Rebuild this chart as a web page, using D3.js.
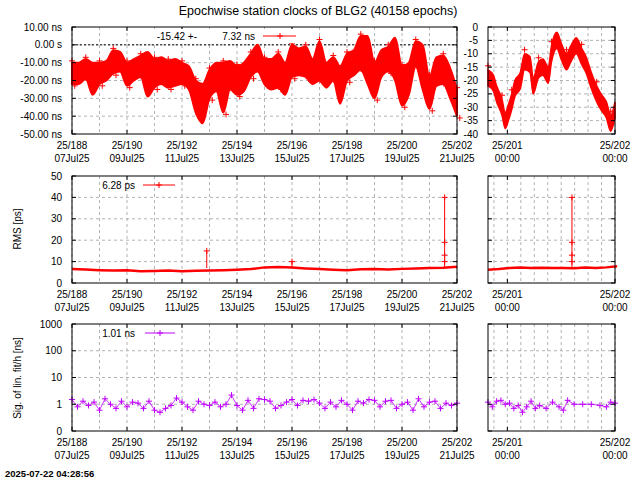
<!DOCTYPE html>
<html><head><meta charset="utf-8">
<script src="https://cdn.jsdelivr.net/npm/d3@7"></script>
<style>body{margin:0;background:#fff}svg{font-family:"Liberation Sans",Arial,sans-serif}</style>
</head><body><svg id="c" width="640" height="480"></svg>
<script>
// ---------- data ----------
const clkDays = d3.range(57).map(i=>188+i*0.25);
const clkLo = [-22,-22,-19,-28,-22,-20,-16,-15,-23,-20,-18,-29,-24,-22,-24,-23,-22,-25,-38,-44,-30,-26,-38,-25,-28,-26,-18,-15,-22,-25,-24,-28,-18,-17,-18,-22,-20,-24,-20,-33,-20,-17,-14,-22,-30,-18,-15,-20,-34,-28,-12,-25,-36,-23,-22,-30,-40];
const clkHi = [-10,-10,-8,-10,-10,-9,-3,-4,-10,-8,-6,-4,-8,-7,-9,-8,-10,-12,-20,-22,-14,-10,-10,-9,-12,-10,-5,0,-8,-8,-5,-10,0,-2,-1,-8,2,-10,-7,-12,-5,-3,5,5,-10,-3,-1,4,-12,-10,2,0,-18,-7,-6,-13,-25];
const clkRDays = [200.82,200.87,200.90,200.95,200.98,201.01,201.04,201.07,201.12,201.16,201.21,201.24,201.29,201.33,201.38,201.41,201.46,201.50,201.55,201.59,201.64,201.69,201.73,201.78,201.83,201.87,201.92,201.96,202.0];
const clkR = [-19,-21,-25,-30,-35,-32,-28,-23,-20,-13,-14,-22,-16,-15,-18,-10,-5,-9,-13,-10,-7,-11,-14,-20,-25,-28,-31,-36,-31];
const rmsDays = d3.range(29).map(i=>188+i*0.5);
const rmsVals = [6.5,6.3,6.0,5.8,6.0,5.5,5.6,5.8,5.5,5.7,5.8,6.0,6.2,6.5,7.3,7.5,7.2,6.8,6.5,6.2,6.0,6.4,6.5,6.3,6.6,6.8,7.0,7.1,7.6];
const spikeDays = [192.9,196.0,201.55];
const spikeVals = [15,10,40];
const rmsRDays = d3.range(13).map(i=>200.82+i*0.1);
const rmsRVals = [6.2,6.5,7.0,7.2,7.0,7.1,7.0,7.0,6.9,7.2,7.0,7.3,7.8];
const rmsRSpikeDay = 201.6, rmsRSpikeVal = 40;
const sigDays = d3.range(71).map(i=>188+i*0.2);
const sigVals = [1.5,0.8,1.3,0.9,1.2,0.6,1.6,1.0,0.7,1.3,0.8,1.2,1.1,0.7,1.3,0.6,0.5,0.7,0.9,1.7,1.2,0.8,0.6,1.3,1.0,0.9,1.2,0.8,1.0,2.2,0.9,0.6,1.4,0.7,1.6,1.5,1.3,0.7,0.9,1.2,1.5,0.9,1.4,1.3,1.5,1.1,0.7,1.2,0.8,1.4,1.0,0.6,1.3,1.1,1.5,1.4,0.8,1.3,1.4,0.7,1.0,1.2,0.6,1.6,0.8,1.2,1.3,0.7,1.1,0.9,1.1];
const sigRDays = [200.82,200.86,200.9,200.94,200.98,201.02,201.06,201.1,201.14,201.18,201.22,201.26,201.3,201.36,201.42,201.48,201.52,201.56,201.62,201.7,201.78,201.86,201.92,201.96,202.0];
const sigRVals = [1.2,0.8,1.3,1.4,1.0,1.1,0.7,0.9,0.5,0.8,1.3,0.7,0.9,0.7,1.2,0.8,0.6,1.4,1.0,1.0,1.0,0.9,0.8,1.2,1.1];
const xTicksL = [188,190,192,194,196,198,200,202];
const xDatesL = ["07Jul25","09Jul25","11Jul25","13Jul25","15Jul25","17Jul25","19Jul25","21Jul25"];
const xTicksR = [201,202];
const yTopL = [10,0,-10,-20,-30,-40,-50];
const yTopLLab = ["10.00 ns","0.00  s","-10.00 ns","-20.00 ns","-30.00 ns","-40.00 ns","-50.00 ns"];
const yTopR = [0,-5,-10,-15,-20,-25,-30,-35,-40];
const yMid = [0,10,20,30,40,50];
const yBot = [0,1,10,100,1000];

// ---------- drawing ----------
const svg = d3.select("#c");
const RED="#ff0000", PUR="#c000ff";
const xL = d3.scaleLinear([188,202],[72,457]);
const xR = d3.scaleLinear([200.82,202],[488,615]);
const yT = d3.scaleLinear([-50,10],[134,27]);
const yTR = d3.scaleLinear([-40,0],[134,27]);
const yM = d3.scaleLinear([0,50],[283,176]);
const lev = v => v<=0?0:Math.max(0,Math.log10(v)+1);
const yBs = d3.scaleLinear([0,4],[431,324]);
const yB = v => yBs(lev(v));
const fs = "10px";

function panel(x,y,xgrid,ygrid,ypix){
  const g = svg.append("g");
  const [x0,x1]=x.range(), [y1,y0]=ypix;
  xgrid.forEach(d=>g.append("line").attr("x1",x(d)).attr("x2",x(d)).attr("y1",y0).attr("y2",y1)
    .attr("stroke","#a0a0a0").attr("stroke-dasharray","3,3").attr("stroke-width",0.8));
  ygrid.forEach(v=>g.append("line").attr("x1",x0).attr("x2",x1).attr("y1",y(v)).attr("y2",y(v))
    .attr("stroke","#a0a0a0").attr("stroke-dasharray","3,3").attr("stroke-width",0.8));
  return g;
}
function frame(x,ypix,xticks,yticks,y){
  const [x0,x1]=x.range(), [y1,y0]=ypix;
  const g=svg.append("g");
  g.append("rect").attr("x",x0).attr("y",y0).attr("width",x1-x0).attr("height",y1-y0)
   .attr("fill","none").attr("stroke","#000");
  xticks.forEach(d=>{g.append("line").attr("x1",x(d)).attr("x2",x(d)).attr("y1",y1).attr("y2",y1-4).attr("stroke","#000");
    g.append("line").attr("x1",x(d)).attr("x2",x(d)).attr("y1",y0).attr("y2",y0+4).attr("stroke","#000");});
  yticks.forEach(v=>{g.append("line").attr("x1",x0).attr("x2",x0+4).attr("y1",y(v)).attr("y2",y(v)).attr("stroke","#000");
    g.append("line").attr("x1",x1).attr("x2",x1-4).attr("y1",y(v)).attr("y2",y(v)).attr("stroke","#000");});
}
function plus(g,px,py,col,s=3){
  g.append("path").attr("d",`M${px-s},${py}h${2*s}M${px},${py-s}v${2*s}`).attr("stroke",col).attr("stroke-width",1);
}
function xlabels(x,ticks,l2,yb){
  ticks.forEach((d,i)=>{
    svg.append("text").attr("x",x(d)).attr("y",yb).attr("text-anchor","middle").attr("font-size",fs).text("25/"+d);
    svg.append("text").attr("x",x(d)).attr("y",yb+13).attr("text-anchor","middle").attr("font-size",fs).text(l2[i]);
  });
}
function ylabels(x,y,vals,labs){
  vals.forEach((v,i)=>svg.append("text").attr("x",x).attr("y",y(v)+3.5).attr("text-anchor","end").attr("font-size",fs).text(labs[i]));
}
const dayGridL = d3.range(188,202.01,1);
const gridR = d3.range(201-0.125,202.01,0.125);

svg.append("text").attr("x",318).attr("y",15).attr("text-anchor","middle").attr("font-size","12.5px").text("Epochwise station clocks of BLG2 (40158 epochs)");

// Top-left
let g = panel(xL,yT,dayGridL,yTopL.slice(1,-1),[134,27]);
g.append("line").attr("x1",72).attr("x2",457).attr("y1",yT(0)).attr("y2",yT(0)).attr("stroke","#000").attr("stroke-dasharray","2,2");
const area = d3.area().x((d,i)=>xL(clkDays[i])).y0((d,i)=>yT(clkLo[i])).y1((d,i)=>yT(clkHi[i])).curve(d3.curveMonotoneX);
g.append("path").datum(clkLo).attr("d",area).attr("fill",RED).attr("stroke",RED).attr("stroke-width",2);
clkDays.forEach((d,i)=>{if(i%2==0){plus(g,xL(d),yT(clkHi[i]+1),RED);plus(g,xL(d+0.1),yT(clkLo[i]-1),RED);}});
frame(xL,[134,27],xTicksL,yTopL,yT);
ylabels(62,yT,yTopL,yTopLLab);
xlabels(xL,xTicksL,xDatesL,149);
svg.append("rect").attr("x",150).attr("y",29).attr("width",150).attr("height",14).attr("fill","#fff");
svg.append("text").attr("x",197).attr("y",40).attr("text-anchor","end").attr("font-size",fs).text("-15.42 +-");
svg.append("text").attr("x",255).attr("y",40).attr("text-anchor","end").attr("font-size",fs).text("7.32 ns");
svg.append("line").attr("x1",263).attr("x2",296).attr("y1",36).attr("y2",36).attr("stroke",RED);
plus(svg,280,36,RED);

// Top-right
g = panel(xR,yTR,gridR,yTopR.slice(1,-1),[134,27]);
const areaR = d3.area().x((d,i)=>xR(clkRDays[i])).y0(d=>yTR(d-3)).y1(d=>yTR(d+3)).curve(d3.curveMonotoneX);
g.append("path").datum(clkR).attr("d",areaR).attr("fill",RED).attr("stroke",RED).attr("stroke-width",1.5);
clkRDays.forEach((d,i)=>{ if(i%3==0) plus(g,xR(d),yTR(clkR[i]+4.5),RED);});
frame(xR,[134,27],xTicksR,yTopR,yTR);
ylabels(478,yTR,yTopR,yTopR.map(String));
xlabels(xR,xTicksR,["00:00","00:00"],149);

// Middle-left
g = panel(xL,yM,dayGridL,yMid.slice(1,-1),[283,176]);
const lnM = d3.line().x((d,i)=>xL(rmsDays[i])).y(d=>yM(d));
g.append("path").datum(rmsVals).attr("d",lnM).attr("fill","none").attr("stroke",RED).attr("stroke-width",2.5);
spikeDays.forEach((d,i)=>{g.append("line").attr("x1",xL(d)).attr("x2",xL(d)).attr("y1",yM(7)).attr("y2",yM(spikeVals[i])).attr("stroke",RED);
  plus(g,xL(d),yM(spikeVals[i]),RED);});
[19,13,10].forEach(v=>plus(g,xL(201.55),yM(v),RED));
frame(xL,[283,176],xTicksL,yMid,yM);
ylabels(62,yM,yMid,yMid.map(String));
xlabels(xL,xTicksL,xDatesL,298);
svg.append("text").attr("x",135).attr("y",189).attr("text-anchor","end").attr("font-size",fs).text("6.28 ps");
svg.append("line").attr("x1",143).attr("x2",175).attr("y1",185).attr("y2",185).attr("stroke",RED);
plus(svg,159,185,RED);
svg.append("text").attr("transform","translate(21,229) rotate(-90)").attr("text-anchor","middle").attr("font-size",fs).text("RMS [ps]");

// Middle-right
g = panel(xR,yM,gridR,yMid.slice(1,-1),[283,176]);
const lnMR = d3.line().x((d,i)=>xR(rmsRDays[i])).y(d=>yM(d));
g.append("path").datum(rmsRVals).attr("d",lnMR).attr("fill","none").attr("stroke",RED).attr("stroke-width",2.5);
g.append("line").attr("x1",xR(rmsRSpikeDay)).attr("x2",xR(rmsRSpikeDay)).attr("y1",yM(7)).attr("y2",yM(rmsRSpikeVal)).attr("stroke",RED);
[40,19,13,10].forEach(v=>plus(g,xR(rmsRSpikeDay),yM(v),RED));
frame(xR,[283,176],xTicksR,yMid,yM);
xlabels(xR,xTicksR,["00:00","00:00"],298);

// Bottom-left
g = panel(xL,yB,dayGridL,[1,10,100],[431,324]);
const lnB = d3.line().x((d,i)=>xL(sigDays[i])).y(d=>yB(d));
g.append("path").datum(sigVals).attr("d",lnB).attr("fill","none").attr("stroke",PUR).attr("stroke-width",0.8);
sigDays.forEach((d,i)=>plus(g,xL(d),yB(sigVals[i]),PUR));
frame(xL,[431,324],xTicksL,yBot,yB);
ylabels(62,yB,yBot,yBot.map(String));
xlabels(xL,xTicksL,xDatesL,446);
svg.append("text").attr("x",135).attr("y",337).attr("text-anchor","end").attr("font-size",fs).text("1.01 ns");
svg.append("line").attr("x1",145).attr("x2",175).attr("y1",333).attr("y2",333).attr("stroke",PUR);
plus(svg,160,333,PUR);
svg.append("text").attr("transform","translate(21,378) rotate(-90)").attr("text-anchor","middle").attr("font-size",fs).text("Sig. of lin. fit/h [ns]");

// Bottom-right
g = panel(xR,yB,gridR,[1,10,100],[431,324]);
const lnBR = d3.line().x((d,i)=>xR(sigRDays[i])).y(d=>yB(d));
g.append("path").datum(sigRVals).attr("d",lnBR).attr("fill","none").attr("stroke",PUR).attr("stroke-width",0.8);
sigRDays.forEach((d,i)=>plus(g,xR(d),yB(sigRVals[i]),PUR));
frame(xR,[431,324],xTicksR,yBot,yB);
xlabels(xR,xTicksR,["00:00","00:00"],446);

svg.append("text").attr("x",5).attr("y",477).attr("font-size","9.5px").attr("font-weight","bold").text("2025-07-22 04:28:56");
</script></body></html>
